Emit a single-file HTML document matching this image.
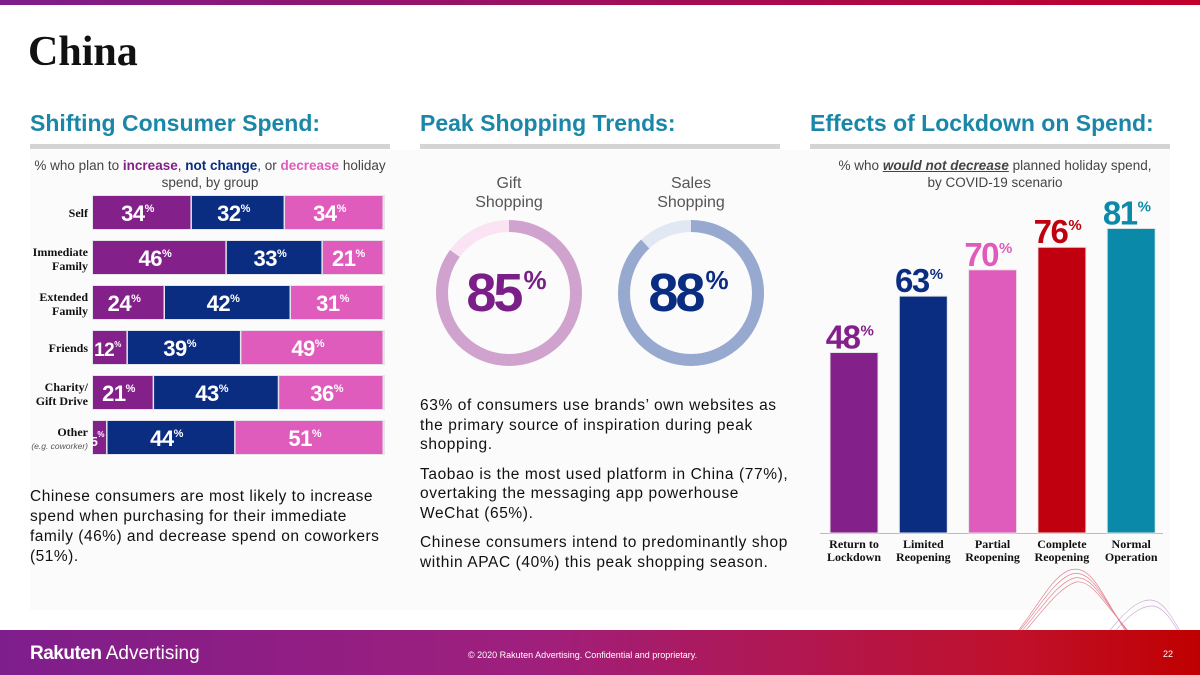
<!DOCTYPE html>
<html><head><meta charset="utf-8">
<style>
body{margin:0;width:1200px;height:675px;position:relative;overflow:hidden;background:#fff;font-family:"Liberation Sans",sans-serif}
.abs{position:absolute}
.h2{position:absolute;top:110px;font-size:23px;font-weight:bold;color:#1a87a8}
.rule{position:absolute;top:144px;height:5px;background:#d4d4d4;width:360px}
.para{position:absolute;left:420px;width:372px;font-size:15.5px;line-height:19.7px;letter-spacing:0.6px;color:#111}
.para p{margin:0 0 9.5px 0}
</style></head><body>
<div class="abs" style="left:0;top:0;width:1200px;height:5px;background:linear-gradient(90deg,#7e1e8c,#c0002a)"></div>
<div class="abs" style="left:30px;top:150px;width:1140px;height:460px;background:#fbfbfb"></div>
<div class="abs" style="left:28px;top:28px;font-family:'Liberation Serif',serif;font-weight:bold;font-size:42px;color:#111">China</div>

<div class="h2" style="left:30px">Shifting Consumer Spend:</div>
<div class="h2" style="left:420px">Peak Shopping Trends:</div>
<div class="h2" style="left:810px">Effects of Lockdown on Spend:</div>
<div class="rule" style="left:30px"></div>
<div class="rule" style="left:420px"></div>
<div class="rule" style="left:810px"></div>

<div class="abs" style="left:26px;top:157px;width:368px;text-align:center;font-size:13.5px;line-height:17px;color:#444">% who plan to <b style="color:#84208a">increase</b>, <b style="color:#0a2d82">not change</b>, or <b style="color:#e05cbc">decrease</b> holiday spend, by group</div>
<svg id="stack" class="abs" style="left:0;top:0" width="400" height="470"></svg>

<div class="abs" style="left:30px;top:487px;width:350px;font-size:15.5px;line-height:20px;letter-spacing:0.5px;color:#111">Chinese consumers are most likely to increase spend when purchasing for their immediate family (46%) and decrease spend on coworkers (51%).</div>

<div class="abs" style="left:449px;top:174px;width:120px;text-align:center;font-size:16px;line-height:19px;color:#555">Gift<br>Shopping</div>
<div class="abs" style="left:631px;top:174px;width:120px;text-align:center;font-size:16px;line-height:19px;color:#555">Sales<br>Shopping</div>
<svg id="donuts" class="abs" style="left:400px;top:200px" width="400" height="180"></svg>

<div class="para" style="top:396px">
<p>63% of consumers use brands’ own websites as the primary source of inspiration during peak shopping.</p>
<p>Taobao is the most used platform in China (77%), overtaking the messaging app powerhouse WeChat (65%).</p>
<p>Chinese consumers intend to predominantly shop within APAC (40%) this peak shopping season.</p>
</div>

<div class="abs" style="left:810px;top:157px;width:370px;text-align:center;font-size:13.5px;line-height:17px;color:#444">% who <b style="text-decoration:underline;font-style:italic">would not decrease</b> planned holiday spend,<br>by COVID-19 scenario</div>
<svg id="bars" class="abs" style="left:800px;top:150px" width="380" height="420"></svg>

<svg class="abs" style="left:960px;top:560px" width="240" height="115">
<g fill="none" stroke="#d23a50" stroke-width="0.7" opacity="0.6">
<path d="M0 110 C60 100 80 20 110 10 C140 0 150 70 200 110"/>
<path d="M5 110 C60 96 82 24 112 14 C140 6 152 72 205 110"/>
<path d="M10 110 C62 92 84 28 114 18 C140 12 154 74 210 110"/>
<path d="M15 110 C64 90 86 32 116 22 C140 18 156 76 215 110"/>
</g>
<g fill="none" stroke="#a060b0" stroke-width="0.7" opacity="0.5">
<path d="M120 110 C150 70 170 40 190 40 C210 40 220 80 240 100"/>
<path d="M125 110 C152 74 172 46 192 46 C210 46 222 84 240 104"/>
</g>
</svg>

<div class="abs" style="left:0;top:630px;width:1200px;height:45px;background:linear-gradient(90deg,#7e1e8c 0%,#a01f7c 45%,#c0102a 85%,#c00000 100%)"></div>
<div class="abs" style="left:30px;top:643px;font-size:19px;color:#fff"><b style="letter-spacing:-0.5px">Rakuten</b> Advertising</div>
<div class="abs" style="left:468px;top:650px;font-size:9px;color:#fff">© 2020 Rakuten Advertising. Confidential and proprietary.</div>
<div class="abs" style="left:1163px;top:649px;font-size:9px;color:#fff">22</div>

<script>
const NS='http://www.w3.org/2000/svg';
function mk(t,a,p){const e=document.createElementNS(NS,t);for(const k in a)e.setAttribute(k,a[k]);p.appendChild(e);return e;}

// Stacked chart data
const groups=['Self','Immediate|Family','Extended|Family','Friends','Charity/|Gift Drive','Other'];
const increase=[34,46,24,12,21,5];
const noChange=[32,33,42,39,43,44];
const decrease=[34,21,31,49,36,51];
const sColors=['#84208a','#0a2d82','#e05cbc'];
const st=document.getElementById('stack');
const x0=93,W=291,y0=196,step=45,bh=33;
groups.forEach((g,i)=>{
  const y=y0+i*step;
  const bg=mk('rect',{x:x0-1,y:y-1,width:W+2,height:bh+2,fill:'#e4e4ea'},st);
  
  
  let cx=x0;
  const tot=increase[i]+noChange[i]+decrease[i];
  [increase[i],noChange[i],decrease[i]].forEach((v,j)=>{
    const w=v/tot*W;
    const r=mk('rect',{x:cx,y:y,width:Math.max(w-1.5,0),height:bh,fill:sColors[j]},st);
    
    
    const small=w<40;
    const fs=w<20?13:(small?19:22);
    const t=mk('text',{x:cx+w/2-(small?3:5),y:y+25,'text-anchor':'middle',fill:'#fff','font-size':fs,'font-weight':'bold','letter-spacing':'-0.5'},st);
    t.textContent=v;
    const ts=mk('tspan',{'font-size':small?8:11,dy:-9},t);ts.textContent='%';
    
    
    cx+=w;
  });
  const parts=g.split('|');
  const isOther=g==='Other';
  parts.forEach((p,k)=>{
    const ty=parts.length==1?(isOther?y+15:y+21):y+15+k*14;
    const t=mk('text',{x:88,y:ty,'text-anchor':'end','font-size':12,'font-weight':'bold','font-family':'Liberation Serif,serif',fill:'#111'},st);
    t.textContent=p;
    
    
  });
  if(isOther){
    const t=mk('text',{x:88,y:y+28,'text-anchor':'end','font-size':8.5,'font-style':'italic',fill:'#555'},st);
    t.textContent='(e.g. coworker)';
    
    
  }
});

// Donuts
const donutValues=[85,88];
const donutFill=['#d0a3cf','#98a9d0'];
const donutTrack=['#fae4f3','#e2e8f3'];
const donutText=['#7b1f88','#0a2d82'];
const dn=document.getElementById('donuts');
donutValues.forEach((v,i)=>{
  const cx=109+i*182,cy=93,r=67,sw=12;
  const tr=mk('circle',{cx:cx,cy:cy,r:r,fill:'none',stroke:donutTrack[i],'stroke-width':sw},dn);
  
  
  const C=2*Math.PI*r;
  const arc=mk('circle',{cx:cx,cy:cy,r:r,fill:'none',stroke:donutFill[i],'stroke-width':sw,'stroke-dasharray':(C*v/100)+' '+C,transform:`rotate(-90 ${cx} ${cy})`},dn);
  
  
  const t=mk('text',{x:cx-4,y:cy+18,'text-anchor':'middle',fill:donutText[i],'font-size':54,'font-weight':'bold','letter-spacing':'-3'},dn);
  t.textContent=v;
  const ts=mk('tspan',{'font-size':26,dy:-22,dx:3},t);ts.textContent='%';
  
  
});

// Lockdown bars
const scenarios=['Return to|Lockdown','Limited|Reopening','Partial|Reopening','Complete|Reopening','Normal|Operation'];
const notDecrease=[48,63,70,76,81];
const bColors=['#84208a','#0a2d82','#e05cbc','#c0000e','#0a8aa8'];
const bs=document.getElementById('bars');
const base=383, k=3.76;
const yb=v=>base-v*k;
const ax=mk('line',{x1:20,x2:363,y1:base+0.5,y2:base+0.5,stroke:'#bbb','stroke-width':1},bs);


scenarios.forEach((s,i)=>{
  const x=30+i*69.3,w=48;
  const r=mk('rect',{x:x,y:yb(notDecrease[i]),width:w,height:base-yb(notDecrease[i]),fill:bColors[i],stroke:'#e6e6e6','stroke-width':1},bs);
  
  
  const t=mk('text',{x:x+w/2-5,y:yb(notDecrease[i])-4,'text-anchor':'middle',fill:bColors[i],'font-size':33,'font-weight':'bold','letter-spacing':'-1.5'},bs);
  t.textContent=notDecrease[i];
  const ts=mk('tspan',{'font-size':15,dy:-13,dx:1},t);ts.textContent='%';
  
  
  s.split('|').forEach((p,j)=>{
    const l=mk('text',{x:x+w/2,y:base+15+j*13,'text-anchor':'middle','font-size':12,'font-weight':'bold','font-family':'Liberation Serif,serif',fill:'#111'},bs);
    l.textContent=p;
    
    
  });
});
</script>
</body></html>
